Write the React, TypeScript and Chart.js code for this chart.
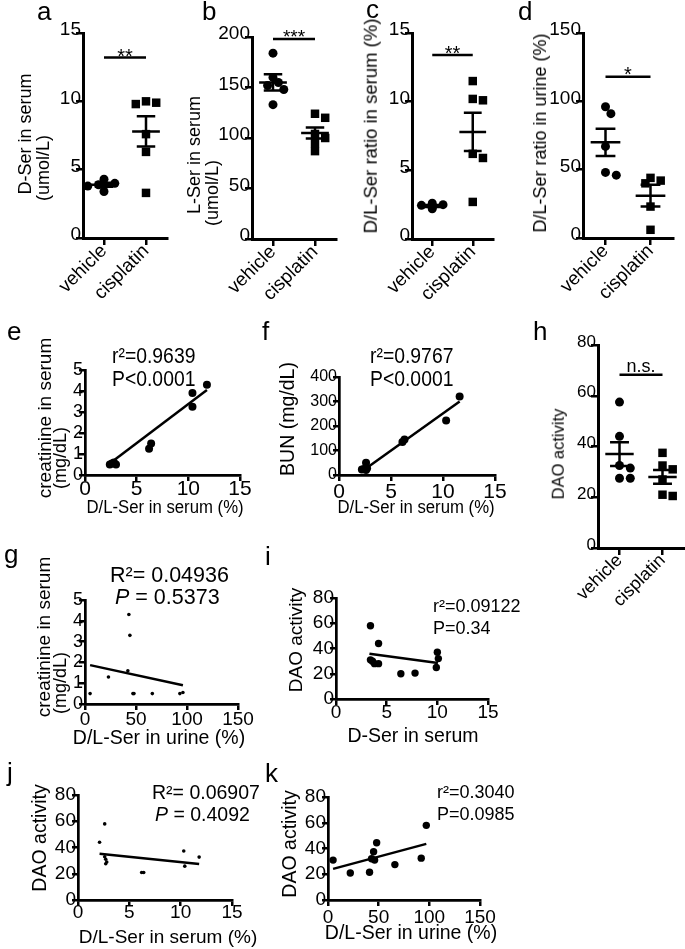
import React, { useEffect, useRef } from "react";
import { Chart, registerables } from "chart.js";

Chart.register(...registerables);

const FONT = "'Liberation Sans', Arial, Helvetica, sans-serif";

// ---------------- data ----------------
const groups = ["vehicle", "cisplatin"];

// a: D-Ser in serum
const aVehicle = [4.3, 4.0, 3.9, 3.8, 3.4];
const aCisplatin = [10.0, 9.9, 9.8, 7.6, 6.3, 3.3];
const aMean = [3.9, 7.8];
const aSem = [0.15, 1.1];
const aSig = 13.2;
const aYTicks = [0, 5, 10, 15];

// b: L-Ser in serum
const bVehicle = [184, 160, 155, 152, 148, 133];
const bCisplatin = [124, 120, 104, 100, 95, 87];
const bMean = [155, 105];
const bSem = [8, 5.5];
const bSig = 198;
const bYTicks = [0, 50, 100, 150, 200];

// c: D/L-Ser ratio in serum
const cVehicle = [2.6, 2.5, 2.45, 2.4, 2.3, 2.2];
const cCisplatin = [11.5, 10.2, 10.1, 6.2, 5.9, 2.7];
const cMean = [2.4, 7.8];
const cSem = [0.07, 1.4];
const cSig = 13.4;
const cYTicks = [0, 5, 10, 15];

// d: D/L-Ser ratio in urine
const dVehicle = [96, 91, 67, 48, 46];
const dCisplatin = [44, 42, 40, 23, 6];
const dMean = [70, 31];
const dSem = [10, 8];
const dSig = 118;
const dYTicks = [0, 50, 100, 150];

// h: DAO activity
const hVehicle = [57.5, 44, 32.5, 31.5, 27.5, 27.5];
const hCisplatin = [37.5, 32.5, 31, 27, 21, 20.5];
const hMean = [37, 28];
const hSem = [4.7, 2.7];
const hSig = 68.3;
const hYTicks = [0, 20, 40, 60, 80];

// e: creatinine vs D/L-Ser serum
const eX = [2.4, 2.6, 2.8, 3.0, 6.2, 6.4, 10.4, 10.4, 11.8];
const eY = [0.5, 0.55, 0.6, 0.5, 1.25, 1.5, 3.9, 3.25, 4.3];
const eFitX = [2.1, 11.8];
const eFitY = [0.44, 4.05];
const eXTicks = [0, 5, 10, 15];
const eYTicks = [0, 1, 2, 3, 4, 5];

// f: BUN vs D/L-Ser serum
const fX = [2.2, 2.4, 2.6, 2.7, 2.6, 6.1, 6.3, 10.3, 11.6];
const fY = [22, 25, 20, 28, 50, 135, 145, 222, 320];
const fFitX = [2.15, 11.6];
const fFitY = [13, 300];
const fXTicks = [0, 5, 10, 15];
const fYTicks = [0, 100, 200, 300, 400];

// g: creatinine vs D/L-Ser urine
const gX = [5, 23, 42, 43, 44, 47, 48, 66, 93, 96];
const gY = [0.5, 1.3, 1.6, 4.3, 3.3, 0.5, 0.5, 0.5, 0.5, 0.55];
const gFitX = [5, 96];
const gFitY = [1.87, 0.9];
const gXTicks = [0, 50, 100, 150];
const gYTicks = [0, 1, 2, 3, 4, 5];

// i: DAO vs D-Ser serum
const iX = [3.4, 4.2, 3.4, 3.8, 4.2, 3.6, 6.4, 7.8, 10.0, 10.1, 9.9];
const iY = [58, 44, 31, 28, 28, 30, 20, 20.5, 37, 32, 25];
const iFitX = [3.3, 10.06];
const iFitY = [35.9, 28.5];
const iXTicks = [0, 5, 10, 15];
const iYTicks = [0, 20, 40, 60, 80];

// j: DAO vs D/L-Ser serum
const jX = [2.6, 2.1, 2.6, 2.7, 2.8, 2.7, 6.2, 6.4, 10.3, 10.4, 11.8];
const jY = [58, 44, 33, 31, 29, 27.6, 21, 21, 37.3, 25.8, 32.7];
const jFitX = [2.1, 11.8];
const jFitY = [35.2, 27.5];
const jXTicks = [0, 5, 10, 15];
const jYTicks = [0, 20, 40, 60, 80];

// k: DAO vs D/L-Ser urine
const kX = [5, 22, 41, 43, 45, 46, 48, 66, 92, 97];
const kY = [31, 21, 21.5, 32, 37.5, 31, 44.5, 27.5, 32.5, 58];
const kFitX = [5, 97];
const kFitY = [24.2, 43.6];
const kXTicks = [0, 50, 100, 150];
const kYTicks = [0, 20, 40, 60, 80];

// ---------------- layout helpers ----------------
const AW = 70;
const AH = 80;
const PT = 24;
const PR = 26;

type Box = { L: number; T: number; R: number; B: number };

function axis(
  pos: "left" | "bottom",
  ticks: number[],
  fontSize: number,
  tickLen: number,
  pad: number,
  extra: any = {}
) {
  const isY = pos === "left";
  return {
    type: "linear",
    position: pos,
    min: extra.min ?? ticks[0],
    max: extra.max ?? ticks[ticks.length - 1],
    afterBuildTicks: (s: any) => {
      s.ticks = ticks.map((v) => ({ value: v }));
    },
    afterFit: (s: any) => {
      if (isY) s.width = AW;
      else s.height = AH;
    },
    ticks: {
      color: "#000",
      font: { family: FONT, size: fontSize },
      padding: pad,
      autoSkip: false,
      maxRotation: extra.rotation ?? 0,
      minRotation: extra.rotation ?? 0,
      labelOffset: extra.labelOffset ?? 0,
      ...(extra.callback ? { callback: extra.callback } : {}),
    },
    grid: {
      display: true,
      drawOnChartArea: false,
      drawTicks: true,
      tickLength: tickLen,
      tickWidth: 2.5,
      tickColor: "#000",
      color: "#000",
      lineWidth: 2.5,
    },
    border: { display: true, width: extra.border ?? 3, color: "#000" },
  };
}

function swarm(values: number[], center: number, pxX: number, pxY: number, d: number) {
  const placed: { x: number; y: number }[] = [];
  const steps = [0, 1, -1, 2, -2, 3, -3];
  for (const v of values) {
    let pos = center;
    for (const s of steps) {
      const cand = center + (s * d * 0.6) / pxX;
      const ok = placed.every(
        (p) => Math.hypot((p.x - cand) * pxX, (p.y - v) * pxY) >= d * 0.8
      );
      if (ok) {
        pos = cand;
        break;
      }
    }
    placed.push({ x: pos, y: v });
  }
  return placed;
}

function meanSem(center: number, m: number, s: number) {
  const gap = { x: center, y: null as any };
  return [
    { x: center - 0.33, y: m },
    { x: center + 0.33, y: m },
    gap,
    { x: center, y: m - s },
    { x: center, y: m + s },
    gap,
    { x: center - 0.22, y: m + s },
    { x: center + 0.22, y: m + s },
    gap,
    { x: center - 0.22, y: m - s },
    { x: center + 0.22, y: m - s },
  ];
}

const sigPlugin = {
  id: "sigText",
  afterDatasetsDraw(chart: any, _a: any, opts: any) {
    if (!opts || !opts.text) return;
    const { ctx, scales } = chart;
    const x = (scales.x.getPixelForValue(1) + scales.x.getPixelForValue(2)) / 2;
    const y = scales.y.getPixelForValue(opts.y);
    ctx.save();
    ctx.fillStyle = "#000";
    ctx.font = `${opts.size}px ${FONT}`;
    ctx.textAlign = "center";
    ctx.textBaseline = "alphabetic";
    ctx.fillText(opts.text, x, y + opts.dy);
    ctx.restore();
  },
};

function baseOptions(x: any, y: any, sig: any = {}) {
  return {
    responsive: false,
    animation: false,
    events: [],
    layout: { padding: { top: PT, right: PR, left: 0, bottom: 0 } },
    scales: { x, y },
    plugins: {
      legend: { display: false },
      tooltip: { enabled: false },
      sigText: sig,
    },
  };
}

type CatPanel = {
  box: Box;
  vehicle: number[];
  cisplatin: number[];
  mean: number[];
  sem: number[];
  sig: number;
  sigText: string;
  sigSize: number;
  sigDy: number;
  yTicks: number[];
  yFont: number;
  xFont: number;
};

function catConfig(p: CatPanel) {
  const { box } = p;
  const pxX = (box.R - box.L) / 2;
  const yMin = p.yTicks[0];
  const yMax = p.yTicks[p.yTicks.length - 1];
  const pxY = (box.B - box.T) / (yMax - yMin);
  const veh = swarm(p.vehicle, 1, pxX, pxY, 9);
  const cis = swarm(p.cisplatin, 2, pxX, pxY, 8.5);
  const lineDs = (data: any[]) => ({
    data,
    showLine: true,
    borderColor: "#000",
    borderWidth: 2.5,
    pointRadius: 0,
    clip: false,
    spanGaps: false,
  });
  const x = axis("bottom", [1, 2], p.xFont, 7, -5, {
    min: 0.5,
    max: 2.5,
    rotation: 45,
    callback: (v: any) => groups[Math.round(Number(v)) - 1],
  });
  const y = axis("left", p.yTicks, p.yFont, 7, -5, { labelOffset: -3 });
  return {
    type: "scatter",
    data: {
      datasets: [
        {
          data: veh,
          pointStyle: "circle",
          pointRadius: 4.5,
          pointBackgroundColor: "#000",
          backgroundColor: "#000",
          pointBorderWidth: 0,
          clip: false,
        },
        {
          data: cis,
          pointStyle: "rect",
          pointRadius: 6,
          pointBackgroundColor: "#000",
          backgroundColor: "#000",
          pointBorderWidth: 0,
          clip: false,
        },
        lineDs([
          ...meanSem(1, p.mean[0], p.sem[0]),
          { x: 1.5, y: null },
          ...meanSem(2, p.mean[1], p.sem[1]),
        ]),
        lineDs([
          { x: 1, y: p.sig },
          { x: 2, y: p.sig },
        ]),
      ],
    },
    options: baseOptions(x, y, { text: p.sigText, y: p.sig, size: p.sigSize, dy: p.sigDy }),
    plugins: [sigPlugin],
  };
}

type ScatPanel = {
  box: Box;
  xs: number[];
  ys: number[];
  fitX: number[];
  fitY: number[];
  xTicks: number[];
  yTicks: number[];
  r: number;
  xFont: number;
  yFont: number;
  xPad: number;
};

function scatConfig(p: ScatPanel) {
  const x = axis("bottom", p.xTicks, p.xFont, 6, p.xPad, { border: 2.7 });
  const y = axis("left", p.yTicks, p.yFont, 6, -4, { border: 2.7 });
  return {
    type: "scatter",
    data: {
      datasets: [
        {
          data: p.xs.map((v, i) => ({ x: v, y: p.ys[i] })),
          pointRadius: p.r,
          pointBackgroundColor: "#000",
          backgroundColor: "#000",
          pointBorderWidth: 0,
          clip: false,
        },
        {
          data: p.fitX.map((v, i) => ({ x: v, y: p.fitY[i] })),
          showLine: true,
          borderColor: "#000",
          borderWidth: 2.5,
          pointRadius: 0,
          clip: false,
        },
      ],
    },
    options: baseOptions(x, y),
    plugins: [sigPlugin],
  };
}

function ChartPanel({ box, config }: { box: Box; config: () => any }) {
  const ref = useRef<HTMLCanvasElement>(null);
  const w = AW + (box.R - box.L) + PR;
  const h = PT + (box.B - box.T) + AH;
  useEffect(() => {
    const chart = new Chart(ref.current as HTMLCanvasElement, config());
    return () => chart.destroy();
  }, []);
  return (
    <canvas
      ref={ref}
      width={w}
      height={h}
      style={{
        position: "absolute",
        left: box.L - AW,
        top: box.T - PT,
        width: w,
        height: h,
      }}
    />
  );
}

function Txt({
  x,
  y,
  size,
  children,
  center = false,
  sx = 1,
}: {
  x: number;
  y: number;
  size: number;
  children: any;
  center?: boolean;
  sx?: number;
}) {
  return (
    <div
      style={{
        position: "absolute",
        left: x,
        top: y - 0.8465 * size,
        fontFamily: FONT,
        fontSize: size,
        lineHeight: `${size}px`,
        whiteSpace: "nowrap",
        color: "#000",
        transform: `${center ? "translateX(-50%) " : ""}scaleX(${sx})`,
        transformOrigin: center ? "center" : "left",
      }}
    >
      {children}
    </div>
  );
}

function VTxt({ cx, cy, size, children }: { cx: number; cy: number; size: number; children: any }) {
  return (
    <div
      style={{
        position: "absolute",
        left: cx,
        top: cy,
        fontFamily: FONT,
        fontSize: size,
        lineHeight: `${size}px`,
        whiteSpace: "nowrap",
        color: "#000",
        transform: "translate(-50%, -50%) rotate(-90deg)",
      }}
    >
      {children}
    </div>
  );
}

// ---------------- panels ----------------
const boxA: Box = { L: 83, T: 33, R: 167, B: 238 };
const boxB: Box = { L: 252, T: 37, R: 336, B: 239 };
const boxC: Box = { L: 412, T: 33, R: 493, B: 239 };
const boxD: Box = { L: 583, T: 33, R: 673, B: 238 };
const boxH: Box = { L: 598, T: 345, R: 684, B: 548 };
const boxE: Box = { L: 85, T: 370, R: 240, B: 475 };
const boxF: Box = { L: 339, T: 377, R: 495, B: 475 };
const boxG: Box = { L: 85, T: 600, R: 238, B: 704 };
const boxI: Box = { L: 336, T: 598, R: 488, B: 699 };
const boxJ: Box = { L: 78, T: 795, R: 232, B: 900 };
const boxK: Box = { L: 328, T: 797, R: 480, B: 900 };

export default function App() {
  const LET = 26;
  return (
    <div
      style={{
        position: "absolute",
        left: 0,
        top: 0,
        width: 685,
        height: 949,
        overflow: "hidden",
        background: "#fff",
      }}
    >
      <ChartPanel
        box={boxA}
        config={() =>
          catConfig({
            box: boxA, vehicle: aVehicle, cisplatin: aCisplatin, mean: aMean, sem: aSem,
            sig: aSig, sigText: "**", sigSize: 20, sigDy: 5, yTicks: aYTicks, yFont: 19, xFont: 19,
          })
        }
      />
      <ChartPanel
        box={boxB}
        config={() =>
          catConfig({
            box: boxB, vehicle: bVehicle, cisplatin: bCisplatin, mean: bMean, sem: bSem,
            sig: bSig, sigText: "***", sigSize: 19, sigDy: 4, yTicks: bYTicks, yFont: 19, xFont: 19,
          })
        }
      />
      <ChartPanel
        box={boxC}
        config={() =>
          catConfig({
            box: boxC, vehicle: cVehicle, cisplatin: cCisplatin, mean: cMean, sem: cSem,
            sig: cSig, sigText: "**", sigSize: 20, sigDy: 5, yTicks: cYTicks, yFont: 19, xFont: 19,
          })
        }
      />
      <ChartPanel
        box={boxD}
        config={() =>
          catConfig({
            box: boxD, vehicle: dVehicle, cisplatin: dCisplatin, mean: dMean, sem: dSem,
            sig: dSig, sigText: "*", sigSize: 20, sigDy: 4, yTicks: dYTicks, yFont: 19, xFont: 19,
          })
        }
      />
      <ChartPanel
        box={boxH}
        config={() =>
          catConfig({
            box: boxH, vehicle: hVehicle, cisplatin: hCisplatin, mean: hMean, sem: hSem,
            sig: hSig, sigText: "n.s.", sigSize: 18, sigDy: -3, yTicks: hYTicks, yFont: 17, xFont: 18,
          })
        }
      />
      <ChartPanel
        box={boxE}
        config={() =>
          scatConfig({
            box: boxE, xs: eX, ys: eY, fitX: eFitX, fitY: eFitY, xTicks: eXTicks, yTicks: eYTicks,
            r: 4, xFont: 21, yFont: 18, xPad: -4,
          })
        }
      />
      <ChartPanel
        box={boxF}
        config={() =>
          scatConfig({
            box: boxF, xs: fX, ys: fY, fitX: fFitX, fitY: fFitY, xTicks: fXTicks, yTicks: fYTicks,
            r: 4, xFont: 21, yFont: 16, xPad: -1,
          })
        }
      />
      <ChartPanel
        box={boxG}
        config={() =>
          scatConfig({
            box: boxG, xs: gX, ys: gY, fitX: gFitX, fitY: gFitY, xTicks: gXTicks, yTicks: gYTicks,
            r: 1.8, xFont: 19, yFont: 18, xPad: -2,
          })
        }
      />
      <ChartPanel
        box={boxI}
        config={() =>
          scatConfig({
            box: boxI, xs: iX, ys: iY, fitX: iFitX, fitY: iFitY, xTicks: iXTicks, yTicks: iYTicks,
            r: 3.7, xFont: 19, yFont: 19, xPad: -4,
          })
        }
      />
      <ChartPanel
        box={boxJ}
        config={() =>
          scatConfig({
            box: boxJ, xs: jX, ys: jY, fitX: jFitX, fitY: jFitY, xTicks: jXTicks, yTicks: jYTicks,
            r: 1.8, xFont: 19, yFont: 19, xPad: -5,
          })
        }
      />
      <ChartPanel
        box={boxK}
        config={() =>
          scatConfig({
            box: boxK, xs: kX, ys: kY, fitX: kFitX, fitY: kFitY, xTicks: kXTicks, yTicks: kYTicks,
            r: 3.7, xFont: 19, yFont: 19, xPad: 0,
          })
        }
      />

      {/* panel letters */}
      <Txt x={37} y={20} size={LET}>a</Txt>
      <Txt x={202} y={20} size={LET}>b</Txt>
      <Txt x={366} y={18} size={LET}>c</Txt>
      <Txt x={518} y={20} size={LET}>d</Txt>
      <Txt x={7} y={340} size={LET}>e</Txt>
      <Txt x={262} y={340} size={LET}>f</Txt>
      <Txt x={533} y={340} size={LET}>h</Txt>
      <Txt x={4} y={563} size={LET}>g</Txt>
      <Txt x={265} y={565} size={LET}>i</Txt>
      <Txt x={7} y={781} size={LET}>j</Txt>
      <Txt x={265} y={782} size={LET}>k</Txt>

      {/* y-axis titles */}
      <VTxt cx={25} cy={134} size={18}>D-Ser in serum</VTxt>
      <VTxt cx={43} cy={168} size={18}>(umol/L)</VTxt>
      <VTxt cx={194} cy={155} size={18}>L-Ser in serum</VTxt>
      <VTxt cx={212} cy={193} size={18}>(umol/L)</VTxt>
      <VTxt cx={371} cy={126} size={18.5}>D/L-Ser ratio in serum (%)</VTxt>
      <VTxt cx={540} cy={133} size={18}>D/L-Ser ratio in urine (%)</VTxt>
      <VTxt cx={44} cy={418} size={19}>creatinine in serum</VTxt>
      <VTxt cx={60} cy={458} size={18}>(mg/dL)</VTxt>
      <VTxt cx={288} cy={419} size={19.5}>BUN (mg/dL)</VTxt>
      <VTxt cx={558} cy={454} size={16.5}>DAO activity</VTxt>
      <VTxt cx={43} cy={637} size={19}>creatinine in serum</VTxt>
      <VTxt cx={60} cy={683} size={18}>(mg/dL)</VTxt>
      <VTxt cx={295} cy={640} size={19}>DAO activity</VTxt>
      <VTxt cx={40} cy={838} size={19.5}>DAO activity</VTxt>
      <VTxt cx={290} cy={844} size={19.5}>DAO activity</VTxt>

      {/* x-axis titles */}
      <Txt x={165} y={513} size={18} center sx={0.93}>D/L-Ser in serum (%)</Txt>
      <Txt x={416} y={513} size={18} center sx={0.93}>D/L-Ser in serum (%)</Txt>
      <Txt x={159} y={745} size={19.5} center>D/L-Ser in urine (%)</Txt>
      <Txt x={413} y={743} size={19.5} center>D-Ser in serum</Txt>
      <Txt x={168} y={943} size={19} center>D/L-Ser in serum (%)</Txt>
      <Txt x={411} y={940} size={19.5} center>D/L-Ser in urine (%)</Txt>

      {/* statistics annotations */}
      <Txt x={112} y={364} size={22} sx={0.88}>r²=0.9639</Txt>
      <Txt x={112} y={387} size={22} sx={0.88}>P&lt;0.0001</Txt>
      <Txt x={370} y={364} size={22} sx={0.88}>r²=0.9767</Txt>
      <Txt x={370} y={387} size={22} sx={0.88}>P&lt;0.0001</Txt>
      <Txt x={110} y={583} size={21.5}>R²= 0.04936</Txt>
      <Txt x={115} y={605} size={21.5}>
        <i>P</i> = 0.5373
      </Txt>
      <Txt x={433} y={612} size={18}>r²=0.09122</Txt>
      <Txt x={433} y={634} size={18}>P=0.34</Txt>
      <Txt x={152} y={800} size={19.5}>R²= 0.06907</Txt>
      <Txt x={155} y={822} size={19.5}>
        <i>P</i> = 0.4092
      </Txt>
      <Txt x={437} y={798} size={18}>r²=0.3040</Txt>
      <Txt x={437} y={820} size={18}>P=0.0985</Txt>
    </div>
  );
}
